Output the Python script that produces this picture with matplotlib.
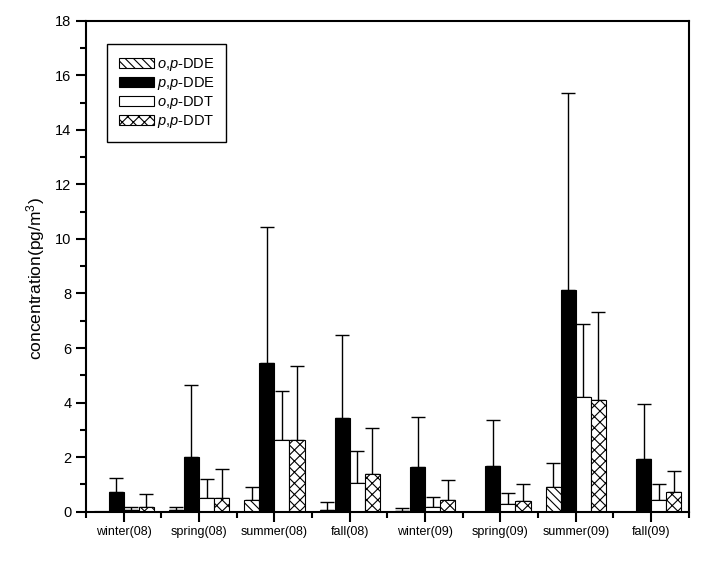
import matplotlib
matplotlib.use("Agg")
import matplotlib.pyplot as plt
import numpy as np

plt.rcParams['font.family'] = ['Liberation Sans', 'DejaVu Sans']
plt.rcParams['mathtext.fontset'] = 'custom'
plt.rcParams['mathtext.rm'] = 'Liberation Sans'
plt.rcParams['mathtext.it'] = 'Liberation Sans:italic'
plt.rcParams['hatch.linewidth'] = 0.8

categories = ['winter(08)', 'spring(08)', 'summer(08)', 'fall(08)',
              'winter(09)', 'spring(09)', 'summer(09)', 'fall(09)']
series_names = ['$o$,$p$-DDE', '$p$,$p$-DDE', '$o$,$p$-DDT', '$p$,$p$-DDT']

op_dde = [0.02, 0.05, 0.42, 0.05, 0.01, 0.0, 0.89, 0.0]
op_dde_top = [0.02, 0.16, 0.92, 0.34, 0.12, 0.0, 1.77, 0.0]
pp_dde = [0.71, 1.99, 5.45, 3.43, 1.63, 1.67, 8.13, 1.93]
pp_dde_top = [1.22, 4.66, 10.42, 6.47, 3.46, 3.35, 15.34, 3.94]
op_ddt = [0.06, 0.49, 2.62, 1.04, 0.16, 0.27, 4.19, 0.42]
op_ddt_top = [0.16, 1.19, 4.41, 2.21, 0.53, 0.67, 6.87, 1.00]
pp_ddt = [0.16, 0.49, 2.62, 1.37, 0.42, 0.38, 4.08, 0.71]
pp_ddt_top = [0.66, 1.55, 5.33, 3.06, 1.15, 1.00, 7.31, 1.48]

values = [op_dde, pp_dde, op_ddt, pp_ddt]
tops = [op_dde_top, pp_dde_top, op_ddt_top, pp_ddt_top]
faces = ['white', 'black', 'white', 'white']
hatches = ['\\\\\\\\', None, None, 'xxx']

fig = plt.figure(figsize=(7.19, 5.67), dpi=100)
ax = fig.add_axes([0.1196, 0.0975, 0.8384, 0.866])

x = np.arange(len(categories))
w = 0.2
for i, (vals, tp) in enumerate(zip(values, tops)):
    pos = x + (i - 1.5) * w
    vals = np.array(vals)
    err = np.clip(np.array(tp) - vals, 0, None)
    ax.bar(pos, vals, width=w, color=faces[i], edgecolor='black', linewidth=0.8,
           hatch=hatches[i], label=series_names[i], zorder=2)
    mask = err > 0
    ax.errorbar(pos[mask], vals[mask], yerr=[np.zeros(mask.sum()), err[mask]],
                fmt='none', ecolor='black', elinewidth=1.0, capsize=5, capthick=1.0, zorder=1)

ax.set_xlim(-0.5, 7.5)
ax.set_ylim(0, 18)
ax.set_xticks(x)
ax.set_xticklabels(categories, fontsize=9)
ax.set_xticks(np.arange(-0.5, 8, 1), minor=True)
ax.set_yticks(np.arange(0, 19, 2))
ax.set_yticks(np.arange(1, 18, 2), minor=True)
ax.tick_params(axis='y', labelsize=10.5)
ax.tick_params(which='major', direction='out', length=7, width=1.5)
ax.tick_params(which='minor', direction='out', length=4, width=1.5)
for s in ax.spines.values():
    s.set_linewidth(1.5)
ax.set_ylabel('concentration(pg/m$^3$)', fontsize=12.5)
ax.yaxis.set_label_coords(-0.065, 0.474)

leg = ax.legend(loc='upper left', bbox_to_anchor=(0.035, 0.952), fontsize=10.5,
                frameon=True, fancybox=False, edgecolor='black', framealpha=1,
                handlelength=2.45, handleheight=0.7, labelspacing=0.15,
                handletextpad=0.15, borderpad=0.8, borderaxespad=0)
leg.get_frame().set_linewidth(1.0)

fig.savefig('out.png', dpi=100)
